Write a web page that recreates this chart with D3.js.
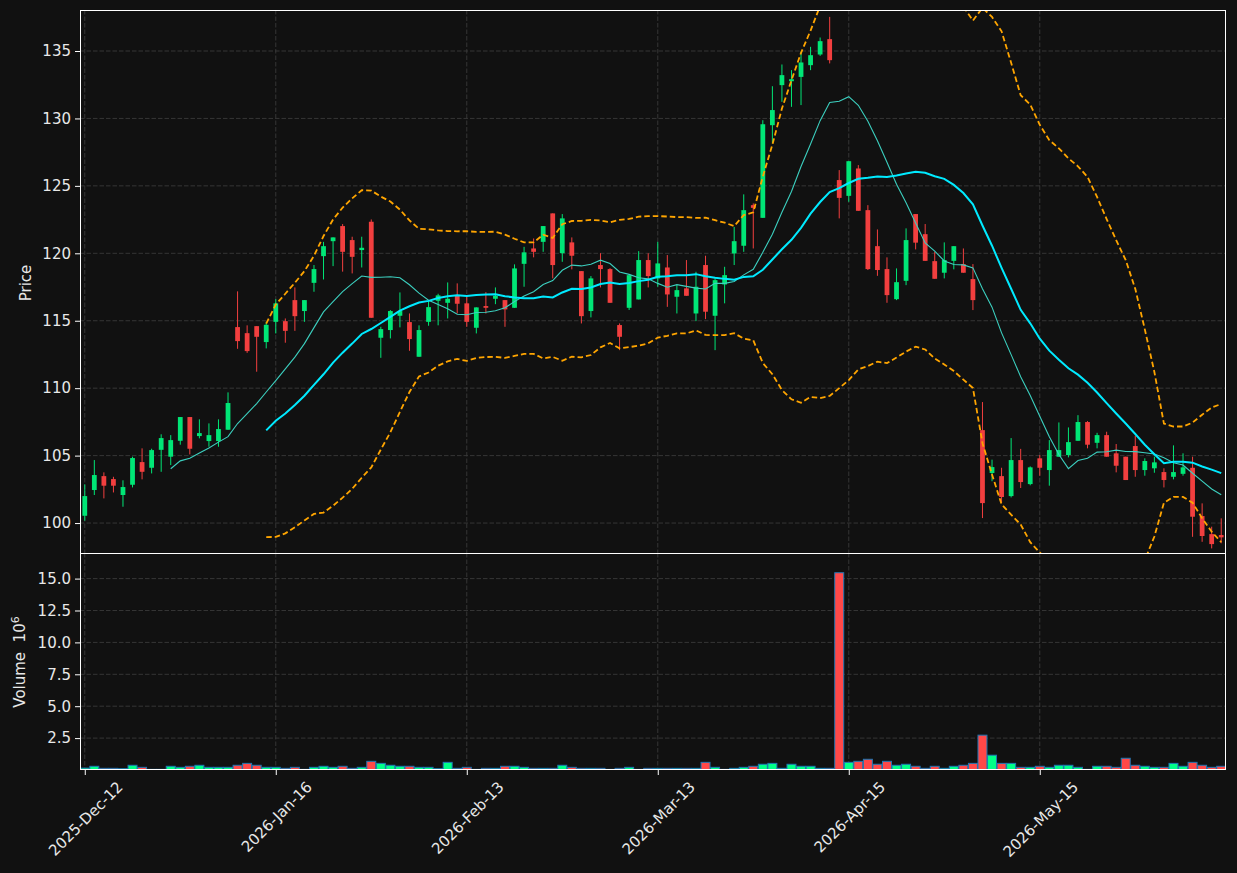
<!DOCTYPE html>
<html><head><meta charset="utf-8">
<script src="https://cdn.jsdelivr.net/npm/d3@7"></script>
<style>body{margin:0;background:#111111;} svg{display:block;}</style>
</head><body><svg id="c" width="1237" height="873"></svg>
<script>
const opens = [100.54,102.45,103.48,103.26,102.08,102.84,104.52,104.10,105.43,104.92,
106.10,107.86,106.45,106.08,106.08,106.92,114.53,114.08,114.60,113.42,
114.92,114.97,116.53,115.72,117.81,119.79,120.90,122.02,120.98,120.24,
122.34,113.74,114.31,115.37,114.90,112.33,114.92,116.48,116.33,116.85,
116.29,114.48,116.09,116.63,116.53,115.96,119.22,120.36,120.85,122.96,
120.01,120.81,118.68,115.72,119.13,118.83,114.68,115.96,116.58,119.50,
118.14,118.95,116.78,117.40,115.54,119.13,115.37,117.69,119.99,120.56,
123.57,122.63,129.50,132.47,132.76,133.08,133.95,134.74,135.88,125.43,
124.26,126.29,123.20,120.53,118.83,116.60,117.96,122.91,121.42,119.42,
118.56,119.44,119.20,118.09,106.89,103.71,103.48,102.00,104.67,102.89,
104.80,103.93,104.92,105.04,106.10,107.49,105.95,106.52,105.17,104.92,
105.71,103.93,104.06,103.78,103.43,103.65,104.10,100.52,99.18,99.11];
const highs = [102.87,104.67,103.76,103.43,103.17,104.92,105.54,105.51,106.58,106.52,
107.86,107.86,107.69,107.39,107.69,109.69,117.18,114.66,114.60,114.92,
116.60,115.17,117.47,116.53,119.13,120.85,121.18,122.17,121.23,121.23,
122.51,114.55,115.79,117.10,115.54,114.66,116.53,117.00,117.84,117.77,
116.78,115.99,117.12,117.47,116.53,119.18,120.48,121.10,122.02,122.96,
122.91,121.18,118.68,118.31,120.01,118.90,114.80,118.38,120.16,120.00,
120.85,119.87,117.64,119.50,118.63,119.82,118.14,119.00,121.96,124.37,
123.70,129.87,132.39,134.00,133.58,134.94,135.31,136.00,137.53,126.17,
126.83,126.54,123.57,121.77,119.70,118.88,121.85,122.91,122.17,120.11,
120.81,120.53,120.36,119.20,108.97,104.70,104.10,106.30,105.50,104.20,
105.04,106.15,107.46,107.09,108.00,107.56,106.69,106.77,105.86,104.92,
106.47,104.80,104.92,104.06,105.76,105.17,104.92,101.46,99.73,100.35];
const lows = [100.17,102.08,101.83,102.27,101.21,102.64,103.24,103.68,103.80,104.30,
105.81,105.09,106.28,105.66,105.66,106.92,112.92,112.62,111.22,112.95,
114.06,113.37,114.25,114.92,117.15,118.06,119.05,118.64,118.51,118.95,
115.22,112.25,113.69,114.51,112.77,112.33,114.63,114.66,115.17,115.54,
114.55,114.06,115.54,116.23,114.55,115.96,117.52,119.70,120.11,118.14,
119.37,118.81,114.80,115.25,117.47,116.33,112.82,115.80,116.58,117.47,
117.52,116.03,115.54,116.85,114.97,115.12,112.82,116.29,119.13,120.11,
120.36,122.63,128.15,131.23,130.86,130.99,133.58,134.64,134.08,122.59,
123.82,123.15,118.76,118.33,116.33,116.53,117.64,120.29,119.44,118.11,
118.14,118.81,118.56,115.79,100.37,103.10,101.50,101.90,102.60,102.80,
103.51,102.77,104.92,104.87,106.10,105.54,105.54,104.92,103.76,103.19,
103.43,103.51,103.73,102.64,103.24,103.51,98.98,98.61,98.12,98.50];
const closes = [102.00,103.56,102.77,102.77,102.67,104.82,103.80,105.41,106.30,106.15,
107.86,105.51,106.67,106.52,106.97,108.90,113.49,112.75,113.81,114.70,
116.29,114.25,115.34,116.53,118.83,120.53,121.18,120.11,119.74,120.41,
115.22,114.38,115.72,115.72,113.64,114.31,116.01,116.88,116.63,116.26,
114.92,115.99,115.96,116.85,115.84,118.88,120.07,120.11,122.02,119.13,
122.59,119.82,115.34,118.14,118.83,116.33,113.81,118.38,119.50,118.31,
119.25,116.95,117.27,116.85,117.52,115.67,118.01,118.38,120.90,123.20,
123.37,129.57,130.62,133.21,132.91,134.15,134.69,135.73,134.32,124.11,
126.83,123.15,118.83,118.76,116.90,117.86,120.98,120.79,119.44,118.11,
119.50,120.53,118.56,116.53,101.48,104.15,101.93,104.67,103.04,104.13,
104.10,105.41,105.41,106.00,107.49,105.81,106.52,104.92,104.25,103.19,
103.93,104.60,104.50,103.19,103.78,104.13,100.47,99.04,98.44,98.94];
const volumes = [0.15,0.29,0.13,0.13,0.10,0.37,0.21,0.05,0.05,0.29,
0.21,0.29,0.37,0.21,0.21,0.21,0.37,0.52,0.37,0.21,
0.21,0.13,0.21,0.05,0.21,0.29,0.21,0.29,0.13,0.21,
0.68,0.52,0.37,0.29,0.29,0.21,0.21,0.10,0.60,0.13,
0.21,0.05,0.13,0.13,0.29,0.29,0.21,0.13,0.13,0.13,
0.37,0.21,0.13,0.13,0.13,0.05,0.13,0.21,0.05,0.13,
0.13,0.13,0.13,0.13,0.13,0.60,0.21,0.05,0.13,0.21,
0.29,0.45,0.52,0.13,0.45,0.29,0.29,0.13,0.13,15.46,
0.60,0.68,0.84,0.45,0.68,0.37,0.45,0.29,0.13,0.29,
0.13,0.29,0.37,0.52,2.73,1.16,0.52,0.52,0.21,0.21,
0.29,0.21,0.37,0.37,0.21,0.05,0.29,0.29,0.21,0.92,
0.37,0.29,0.21,0.21,0.52,0.29,0.60,0.37,0.21,0.29];
const tickIndex = [0,20,40,60,80,100];
const tickLabels = ["2025-Dec-12","2026-Jan-16","2026-Feb-13","2026-Mar-13","2026-Apr-15","2026-May-15"];
const priceTicks = [100,105,110,115,120,125,130,135];
const volumeTicks = [2.5,5.0,7.5,10.0,12.5,15.0];

// rolling indicators (as the original chart computes them from closes)
function rollMean(arr, n){ return arr.map((_,i)=> i<n-1?null: d3.mean(arr.slice(i-n+1,i+1))); }
function rollStd(arr, n){ return arr.map((_,i)=> i<n-1?null: d3.deviation(arr.slice(i-n+1,i+1))); }
const ma10 = rollMean(closes,10);
const ma20 = rollMean(closes,20);
const sd20 = rollStd(closes,20);
const bbUp = ma20.map((m,i)=> m==null?null: m+2*sd20[i]);
const bbLo = ma20.map((m,i)=> m==null?null: m-2*sd20[i]);

const N = closes.length;
const L=80, R=1226, T=10, MID=553, B=770;
const svg = d3.select("#c");
const FONT = "DejaVu Sans, sans-serif";
const FS = 15;
const TXT = "#e8e8e8";
const UP="#00e676", DN="#f23f3f", VUP="#00ff88", VDN="#ff4848";

svg.append("rect").attr("width",1237).attr("height",873).attr("fill","#111111");

const x = d3.scaleLinear().domain([-0.5, N-0.5]).range([L,R]);
const yP = d3.scaleLinear().domain([97.78,138.04]).range([MID,T]);
const yV = d3.scaleLinear().domain([0, 1.1*d3.max(volumes)]).range([B,MID]);
const step = x(1)-x(0);

svg.append("clipPath").attr("id","cp").append("rect").attr("x",L).attr("y",T).attr("width",R-L).attr("height",MID-T);
svg.append("clipPath").attr("id","cv").append("rect").attr("x",L).attr("y",MID).attr("width",R-L).attr("height",B-MID);

// grids
const grid = svg.append("g").attr("stroke","#3a3a3a").attr("stroke-width",0.9).attr("stroke-dasharray","4.5,2");
priceTicks.forEach(t=>grid.append("line").attr("x1",L).attr("x2",R).attr("y1",yP(t)).attr("y2",yP(t)));
volumeTicks.forEach(t=>grid.append("line").attr("x1",L).attr("x2",R).attr("y1",yV(t)).attr("y2",yV(t)));
tickIndex.forEach(t=>{
  grid.append("line").attr("x1",x(t)).attr("x2",x(t)).attr("y1",T).attr("y2",MID);
  grid.append("line").attr("x1",x(t)).attr("x2",x(t)).attr("y1",MID).attr("y2",B);
});

// candles
const cg = svg.append("g").attr("clip-path","url(#cp)");
const idx = d3.range(N);
cg.selectAll("line.w").data(idx).join("line")
  .attr("x1",i=>x(i)).attr("x2",i=>x(i))
  .attr("y1",i=>yP(highs[i])).attr("y2",i=>yP(lows[i]))
  .attr("stroke",i=>closes[i]>=opens[i]?UP:DN).attr("stroke-width",1);
const bw = step*0.5;
cg.selectAll("rect.b").data(idx).join("rect")
  .attr("x",i=>x(i)-bw/2).attr("width",bw)
  .attr("y",i=>yP(Math.max(opens[i],closes[i])))
  .attr("height",i=>Math.max(1,Math.abs(yP(opens[i])-yP(closes[i]))))
  .attr("fill",i=>closes[i]>=opens[i]?UP:DN);

// lines
function lineOf(arr){
  return d3.line().defined(d=>d[1]!=null).x(d=>x(d[0])).y(d=>yP(d[1]))(arr.map((v,i)=>[i,v]));
}
cg.append("path").attr("d",lineOf(bbUp)).attr("fill","none").attr("stroke","#ffa500").attr("stroke-width",1.8).attr("stroke-dasharray","5.5,3");
cg.append("path").attr("d",lineOf(bbLo)).attr("fill","none").attr("stroke","#ffa500").attr("stroke-width",1.8).attr("stroke-dasharray","5.5,3");
cg.append("path").attr("d",lineOf(ma10)).attr("fill","none").attr("stroke","#3ccfbf").attr("stroke-width",1.1);
cg.append("path").attr("d",lineOf(ma20)).attr("fill","none").attr("stroke","#00eaff").attr("stroke-width",2);

// volume
const vg = svg.append("g").attr("clip-path","url(#cv)");
const vw = step*0.94;
vg.selectAll("rect").data(idx).join("rect")
  .attr("x",i=>x(i)-vw/2).attr("width",vw)
  .attr("y",i=>yV(volumes[i])).attr("height",i=>yV(0)-yV(volumes[i]))
  .attr("fill",i=>closes[i]>=opens[i]?VUP:VDN)
  .attr("stroke","#1f77b4").attr("stroke-width",1);

// spines
const sp = svg.append("g").attr("stroke","#ffffff").attr("stroke-width",1).attr("fill","none");
sp.append("rect").attr("x",L+0.5).attr("y",T+0.5).attr("width",R-L-1).attr("height",MID-T);
sp.append("rect").attr("x",L+0.5).attr("y",MID+0.5).attr("width",R-L-1).attr("height",B-MID-1);

// axes
function styleAxis(g){
  g.select(".domain").remove();
  g.selectAll(".tick line").attr("stroke","#ffffff");
  g.selectAll(".tick text").attr("fill",TXT).attr("font-family",FONT).attr("font-size",FS);
}
svg.append("g").attr("transform",`translate(${L},0)`)
  .call(d3.axisLeft(yP).tickValues(priceTicks).tickFormat(d3.format("d")).tickSize(5).tickPadding(4)).call(styleAxis);
svg.append("g").attr("transform",`translate(${L},0)`)
  .call(d3.axisLeft(yV).tickValues(volumeTicks).tickFormat(d3.format(".1f")).tickSize(5).tickPadding(4)).call(styleAxis);
const xa = svg.append("g").attr("transform",`translate(0,${B})`)
  .call(d3.axisBottom(x).tickValues(tickIndex).tickFormat((d,i)=>tickLabels[i]).tickSize(5).tickPadding(4)).call(styleAxis);
xa.selectAll(".tick text").each(function(){
  const t=d3.select(this);
  const w=this.getComputedTextLength();
  const asc=FS*0.76;
  const dx=0.354*(w+asc);
  t.attr("text-anchor","end").attr("dy",null).attr("y",null)
   .attr("transform",`translate(${dx},${18}) rotate(-45)`);
});

// axis labels
svg.append("text").attr("transform","translate(31,283) rotate(-90)").attr("text-anchor","middle")
  .attr("fill",TXT).attr("font-family",FONT).attr("font-size",FS).text("Price");
const vl = svg.append("text").attr("transform","translate(25,662) rotate(-90)").attr("text-anchor","middle")
  .attr("fill",TXT).attr("font-family",FONT).attr("font-size",FS);
vl.append("tspan").text("Volume\u00a0\u00a010");
vl.append("tspan").attr("dy",-6).attr("font-size",11).text("6");
</script></body></html>
